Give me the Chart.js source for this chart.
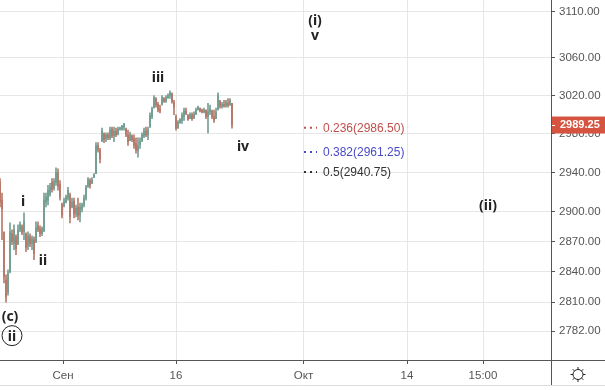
<!DOCTYPE html>
<html lang="ru">
<head>
<meta charset="UTF-8">
<title>S&amp;P wave count</title>
<script src="https://cdn.jsdelivr.net/npm/chart.js"></script>
<style>
    html, body { margin: 0; padding: 0; background: #fff; overflow: hidden; }
    canvas { display: block; }
</style>
</head>
<body>
<canvas id="chart" width="605" height="390"></canvas>
<script>
// candles, one per bar index
const opens = [2930,2912,2880,2832,2820,2840,2878,2868,2875,2868,2882,2885,2880,2878,2866,2875,2868,2872,2870,2886,2883,2878,2881,2910,2912,2918,2930,2924,2930,2940,2928,2908,2906,2910,2914,2917,2905,2911,2898,2905,2897,2903,2907,2914,2926,2932,2929,2935,2939,2968,2963,2973,2980,2975,2979,2976,2985,2978,2983,2980,2985,2985,2987,2985,2979,2973,2978,2975,2970,2963,2969,2973,2978,2983,2979,2987,2998,3008,3017,3011,3006,3011,3017,3014,3018,3020,3022,3013,2998,2986,2992,2994,2998,3004,3000,2996,3000,2997,3001,3005,3007,3005,3003,3005,2998,3003,3004,2998,2996,3005,3014,3009,3011,3009,3012,3010,3012];
const closes = [2910,2903,2835,2815,2838,2880,2870,2882,2863,2882,2887,2879,2890,2864,2876,2868,2873,2858,2884,2882,2878,2883,2912,2915,2922,2925,2923,2931,2940,2926,2915,2897,2911,2915,2922,2895,2910,2898,2904,2896,2905,2907,2914,2925,2933,2927,2933,2938,2968,2964,2954,2983,2974,2979,2976,2984,2978,2983,2979,2985,2986,2988,2990,2979,2972,2979,2974,2968,2963,2968,2972,2979,2983,2979,2984,2999,3006,3018,3010,3005,3004,3018,3014,3018,3020,3023,3014,3008,2986,2992,2995,2999,3004,3001,2995,3000,2996,3001,3005,3008,3004,3003,3005,2998,3003,3006,2998,2994,3003,3020,3009,3011,3009,3013,3010,3015,2989.25];
const highs = [2934,2919,2872,2837,2842,2889,2882,2887,2877,2887,2890,2887,2899,2879,2880,2878,2876,2875,2890,2890,2886,2885,2919,2919,2927,2929,2934,2934,2945,2944,2932,2909,2914,2917,2925,2919,2914,2914,2907,2914,2909,2909,2917,2927,2935,2934,2935,2939,2971,2971,2965,2986,2981,2981,2981,2987,2987,2987,2986,2987,2987,2989,2991,2986,2984,2982,2979,2979,2976,2976,2976,2981,2986,2987,2987,3002,3008,3020,3018,3013,3010,3020,3018,3020,3022,3025,3023,3015,3000,2994,2996,3002,3007,3007,3000,3002,3002,3003,3007,3009,3007,3006,3007,3005,3012,3010,3005,3005,3007,3023,3015,3013,3015,3015,3017,3017,3012];
const lows = [2905,2872,2829,2810,2817,2839,2867,2862,2857,2867,2880,2877,2872,2860,2862,2865,2862,2852,2869,2880,2875,2876,2880,2905,2907,2916,2920,2922,2927,2922,2912,2894,2905,2909,2912,2889,2904,2894,2895,2892,2890,2900,2905,2912,2925,2924,2929,2935,2939,2961,2950,2972,2971,2972,2974,2974,2976,2972,2977,2979,2984,2984,2984,2977,2968,2974,2972,2965,2960,2956,2965,2972,2976,2977,2974,2987,2996,3007,3008,3003,3002,3010,3013,3013,3017,3017,3012,3000,2984,2986,2991,2991,2994,3000,2994,2996,2994,2996,3000,3005,3003,3002,3002,2996,2981,3000,2996,2992,2996,3005,3007,3007,3008,3008,3008,3010,2986];

// axes
const priceTicks = [3110, 3060, 3020, 2980, 2940, 2900, 2870, 2840, 2810, 2782];
const timeTicks = [31.5, 88, 151.75, 203.5, 241.5];
const timeLabels = ['Сен', '16', 'Окт', '14', '15:00'];
const lastPrice = 2989.25;

// fibonacci levels
const fibNames = ['0.236', '0.382', '0.5'];
const fibPrices = [2986.50, 2961.25, 2940.75];
const fibColors = ['#c0504d', '#4a4ac8', '#333333'];
const fibFrom = 152;
const fibTo = 158.5;
const fibTextAt = 161.5;

// wave labels
const waveNames = ['(i)', 'v', 'iii', 'iv', 'i', 'ii', '(c)', 'ii', '(ii)'];
const waveBars = [157.5, 157.5, 79, 121.5, 11.5, 21.5, 5, 6, 244];
const wavePrices = [3100.8, 3084.6, 3039.8, 2967.6, 2911, 2852, 2797, 2777.5, 2907];
const circledWave = 7;

const UP = '#769f94';
const DOWN = '#b87a6b';
const FONT = '"Liberation Sans", Arial, sans-serif';

const candleColors = closes.map((c, i) => c >= opens[i] ? UP : DOWN);

const overlay = {
    id: 'overlay',
    afterDraw(chart) {
        const c = chart.ctx;
        const x = chart.scales.x, y = chart.scales.y;
        c.save();

        // fib text
        c.font = '12px ' + FONT;
        c.textAlign = 'left';
        c.textBaseline = 'middle';
        fibNames.forEach((n, i) => {
            c.fillStyle = fibColors[i];
            c.fillText(n + '(' + fibPrices[i].toFixed(2) + ')', x.getPixelForValue(fibTextAt), y.getPixelForValue(fibPrices[i]) + 1);
        });

        // wave counts
        c.fillStyle = '#222';
        c.textAlign = 'center';
        c.font = 'bold 14px "Noto Sans", sans-serif';
        waveNames.forEach((n, i) => {
            const px = x.getPixelForValue(waveBars[i]), py = y.getPixelForValue(wavePrices[i]);
            c.fillText(n, px, py + 1);
            if (i === circledWave) {
                c.beginPath();
                c.arc(px, py, 10, 0, Math.PI * 2);
                c.strokeStyle = '#222';
                c.lineWidth = 1;
                c.stroke();
            }
        });

        // frame: time axis goes on under the price axis, plus the footer line
        c.strokeStyle = '#555';
        c.lineWidth = 1;
        c.beginPath();
        c.moveTo(0, 360.5); c.lineTo(605, 360.5);
        c.moveTo(551.5, 360); c.lineTo(551.5, 385);
        c.stroke();
        c.strokeStyle = '#dedede';
        c.beginPath();
        c.moveTo(0, 385.5); c.lineTo(605, 385.5);
        c.stroke();

        // last price tag
        const ty = y.getPixelForValue(lastPrice);
        c.fillStyle = '#d6533f';
        c.fillRect(552, ty - 8.5, 53, 17);
        c.strokeStyle = '#fff';
        c.beginPath();
        c.moveTo(552, Math.round(ty) + 0.5); c.lineTo(555, Math.round(ty) + 0.5);
        c.stroke();
        c.fillStyle = '#fff';
        c.textAlign = 'left';
        c.font = 'bold 11px ' + FONT;
        c.fillText(lastPrice.toFixed(2), 560, ty);

        // settings icon
        c.strokeStyle = '#222';
        c.beginPath();
        c.arc(578, 374.5, 5, 0, Math.PI * 2);
        for (let a = 0; a < 8; a++) {
            const s = Math.sin(a * Math.PI / 4), k = Math.cos(a * Math.PI / 4);
            c.moveTo(578 + k * 5, 374.5 + s * 5);
            c.lineTo(578 + k * 7.5, 374.5 + s * 7.5);
        }
        c.stroke();
        c.restore();
    }
};

new Chart(document.getElementById('chart'), {
    type: 'bar',
    data: {
        datasets: [
            ...fibPrices.map((p, i) => ({
                type: 'line',
                data: [{ x: fibFrom, y: p }, { x: fibTo, y: p }],
                borderColor: fibColors[i],
                borderWidth: 2,
                borderDash: [2, 4],
                pointRadius: 0
            })),
            {
                data: highs.map((h, i) => ({ x: i, y: [lows[i], h] })),
                backgroundColor: candleColors,
                barThickness: 1,
                grouped: false
            },
            {
                data: opens.map((o, i) => ({ x: i, y: [o, closes[i]] })),
                backgroundColor: candleColors,
                barThickness: 1.25,
                grouped: false
            }
        ]
    },
    options: {
        responsive: false,
        animation: false,
        layout: { padding: 0 },
        plugins: { legend: { display: false }, tooltip: { enabled: false } },
        scales: {
            x: {
                type: 'linear',
                min: 0,
                max: 275.5,
                offset: false,
                grid: { color: '#e6e6e6', offset: false, tickColor: '#555', tickLength: 4 },
                border: { display: false },
                ticks: {
                    color: '#555',
                    font: { family: FONT, size: 11.5 },
                    autoSkip: false,
                    maxRotation: 0,
                    padding: 5,
                    callback: v => timeLabels[timeTicks.indexOf(v)]
                },
                afterBuildTicks: s => { s.ticks = timeTicks.map(v => ({ value: v })); },
                afterFit: s => { s.height = 30; s.paddingLeft = 0; s.paddingRight = 0; }
            },
            y: {
                type: 'logarithmic',
                position: 'right',
                min: 2754,
                max: 3122.5,
                grid: { color: '#e6e6e6', tickColor: '#555', tickLength: 4 },
                border: { display: true, color: '#555' },
                ticks: {
                    color: '#555',
                    font: { family: FONT, size: 11.5 },
                    autoSkip: false,
                    padding: 4,
                    callback: v => v.toFixed(2)
                },
                afterBuildTicks: s => { s.ticks = priceTicks.map(v => ({ value: v })); },
                afterFit: s => { s.width = 54; s.paddingTop = 0; s.paddingBottom = 0; }
            }
        }
    },
    plugins: [overlay]
});
</script>
</body>
</html>
